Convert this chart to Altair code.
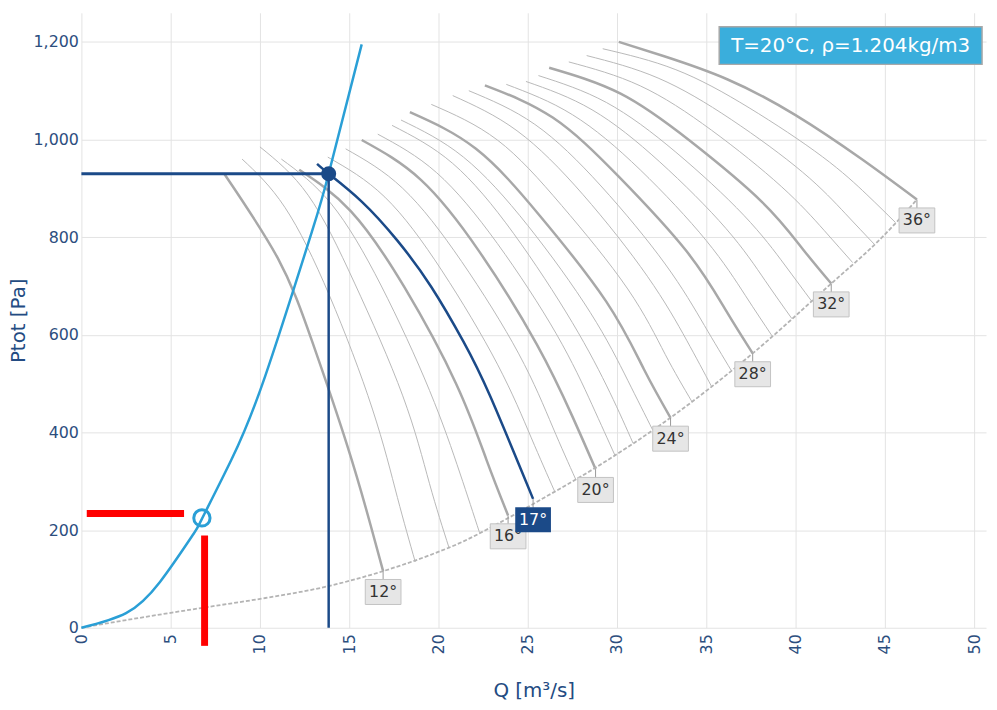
import altair as alt
import pandas as pd

# ---------------- data ----------------
ANGLES = list(range(12, 37))
THICK_ANGLES = [12, 16, 20, 24, 28, 32, 36]
SELECTED_ANGLE = 17
LABEL_ANGLES = [12, 16, 17, 20, 24, 28, 32, 36]

# fan curves (Q [m3/s], Ptot [Pa]) per blade angle
fan_12 = [(8.0, 930), (11.0, 757), (12.9, 589), (14.9, 372), (16.2, 210), (16.9, 116)]
fan_13 = [(9.0, 960), (11.4, 861), (13.9, 680), (16.3, 448), (17.7, 267), (18.7, 135)]
fan_14 = [(10.0, 985), (12.7, 886), (15.3, 706), (18.0, 475), (19.5, 295), (20.6, 163)]
fan_15 = [(11.2, 960), (14.0, 868), (16.8, 700), (19.5, 486), (21.2, 317), (22.3, 195)]
fan_16 = [(12.2, 938), (15.1, 853), (18.1, 697), (21.0, 499), (22.7, 343), (23.9, 230)]
fan_17 = [(13.2, 950), (13.85, 930), (15.7, 873), (17.7, 793), (19.6, 698), (21.4, 586),
          (22.9, 474), (25.3, 264)]
fan_18 = [(13.8, 964), (17.0, 882), (20.2, 731), (23.3, 540), (25.2, 389), (26.5, 280)]
fan_19 = [(14.8, 981), (18.0, 900), (21.3, 750), (24.5, 561), (26.4, 411), (27.7, 303)]
fan_20 = [(15.7, 999), (19.0, 918), (22.3, 770), (25.5, 581), (27.5, 433), (28.8, 325)]
fan_21 = [(16.6, 1011), (19.9, 932), (23.3, 787), (26.6, 602), (28.6, 457), (29.9, 352)]
fan_22 = [(17.4, 1029), (20.8, 951), (24.2, 808), (27.5, 625), (29.6, 482), (30.9, 378)]
fan_23 = [(17.9, 1040), (21.4, 964), (25.0, 824), (28.5, 646), (30.6, 507), (32.0, 405)]
fan_24 = [(18.4, 1056), (22.1, 981), (25.7, 843), (29.4, 668), (31.5, 530), (33.0, 430)]
fan_25 = [(19.6, 1072), (23.3, 999), (26.9, 865), (30.6, 694), (32.7, 560), (34.2, 463)]
fan_26 = [(20.8, 1090), (24.4, 1018), (28.1, 887), (31.7, 720), (33.9, 589), (35.3, 494)]
fan_27 = [(21.7, 1100), (25.4, 1031), (29.1, 905), (32.7, 745), (34.9, 619), (36.4, 527)]
fan_28 = [(22.6, 1111), (26.4, 1045), (30.1, 924), (33.9, 771), (36.1, 650), (37.6, 562)]
fan_29 = [(23.8, 1113), (27.5, 1051), (31.3, 938), (35.0, 793), (37.2, 680), (38.7, 597)]
fan_30 = [(24.9, 1119), (28.6, 1061), (32.4, 954), (36.1, 818), (38.3, 711), (39.8, 633)]
fan_31 = [(25.6, 1131), (29.4, 1076), (33.3, 974), (37.1, 845), (39.4, 743), (40.9, 669)]
fan_32 = [(26.2, 1147), (30.2, 1094), (34.1, 997), (38.1, 873), (40.4, 776), (42.0, 705)]
fan_33 = [(27.3, 1159), (31.3, 1110), (35.3, 1019), (39.2, 904), (41.6, 814), (43.2, 748)]
fan_34 = [(28.3, 1172), (32.3, 1126), (36.4, 1041), (40.4, 933), (42.8, 848), (44.4, 786)]
fan_35 = [(29.2, 1186), (33.3, 1143), (37.4, 1065), (41.5, 965), (44.0, 887), (45.6, 830)]
fan_36 = [(30.1, 1200), (32.6, 1171), (36.2, 1123), (40.0, 1050), (43.7, 960), (46.8, 877)]

FAN_CURVES = [fan_12, fan_13, fan_14, fan_15, fan_16, fan_17, fan_18, fan_19, fan_20,
              fan_21, fan_22, fan_23, fan_24, fan_25, fan_26, fan_27, fan_28, fan_29,
              fan_30, fan_31, fan_32, fan_33, fan_34, fan_35, fan_36]

# lower limit line of the fan field
limit_line = [(0, 0), (3.2, 20), (6.8, 41), (10.3, 61), (13.8, 85), (16.9, 116), (19.6, 150),
              (21.4, 177), (22.9, 205), (25.9, 266), (28.8, 328), (33.1, 433), (37.6, 562),
              (42.0, 705), (44.8, 798), (46.8, 877)]

# system curve
system_curve = [(0, 0), (2.5, 30), (4.4, 94), (6.2, 188), (6.75, 223), (8.4, 344),
                (10.3, 516), (12.9, 810), (13.85, 930), (15.7, 1195)]

operating_point = (13.85, 930)
second_point = (6.75, 225)
red_h = (0.3, 5.75, 234)      # Q from, Q to, P
red_v = (6.9, 189, -37)       # Q, P from, P to

INFO_TEXT = "T=20°C, ρ=1.204kg/m3"

# ---------------- tables ----------------
rows = []
for a, pts in zip(ANGLES, FAN_CURVES):
    for i, (q, p) in enumerate(pts):
        rows.append({"angle": a, "Q": q, "P": p, "i": i})
fan = pd.DataFrame(rows)
thin = fan[~fan.angle.isin(THICK_ANGLES + [SELECTED_ANGLE])]
thick = fan[fan.angle.isin(THICK_ANGLES)]
sel = fan[fan.angle == SELECTED_ANGLE]

limit_df = pd.DataFrame([{"Q": q, "P": p, "i": i} for i, (q, p) in enumerate(limit_line)])
sys_df = pd.DataFrame([{"Q": q, "P": p, "i": i} for i, (q, p) in enumerate(system_curve)])

ends = []
for a, pts in zip(ANGLES, FAN_CURVES):
    if a in LABEL_ANGLES:
        ends.append({"angle": a, "Q": pts[-1][0], "P": pts[-1][1], "label": f"{a}°"})
ends_df = pd.DataFrame(ends)
ends_grey = ends_df[ends_df.angle != SELECTED_ANGLE]
ends_sel = ends_df[ends_df.angle == SELECTED_ANGLE]

op_df = pd.DataFrame([{"Q": operating_point[0], "P": operating_point[1], "Q0": 0, "P0": 0}])
pt2_df = pd.DataFrame([{"Q": second_point[0], "P": second_point[1]}])
red_h_df = pd.DataFrame([{"Q": red_h[0], "Q2": red_h[1], "P": red_h[2]}])
red_v_df = pd.DataFrame([{"Q": red_v[0], "P": red_v[1], "P2": red_v[2]}])
info_df = pd.DataFrame([{"text": INFO_TEXT}])

# ---------------- styling ----------------
FONT = "DejaVu Sans"
DARK = "#1b4a88"
LIGHT = "#2a9fd6"
AX_COL = "#2c4e7e"
CURVE = "natural"

xs = alt.Scale(domain=[0, 50.67], nice=False, zero=False)
ys = alt.Scale(domain=[0, 1259.6], nice=False, zero=False)

x_axis = alt.Axis(values=list(range(0, 51, 5)), labelAngle=270, labelFlush=False,
                  labelOverlap=False, title="Q [m³/s]", labelPadding=6, titlePadding=27)
y_axis = alt.Axis(values=list(range(0, 1201, 200)), format=",d", labelFlush=False,
                  labelOverlap=False, title="Ptot [Pa]", labelPadding=3, titlePadding=5)

X = alt.X("Q:Q", scale=xs, axis=x_axis)
Y = alt.Y("P:Q", scale=ys, axis=y_axis)

thin_l = alt.Chart(thin).mark_line(color="#b8b8b8", strokeWidth=1, interpolate=CURVE).encode(
    x=X, y=Y, detail="angle:N", order="i:Q")
thick_l = alt.Chart(thick).mark_line(color="#a8a8a8", strokeWidth=2.5, interpolate=CURVE).encode(
    x=X, y=Y, detail="angle:N", order="i:Q")
limit_l = alt.Chart(limit_df).mark_line(color="#b4b4b4", strokeWidth=1.8, strokeDash=[4, 2],
                                        interpolate="monotone").encode(x=X, y=Y, order="i:Q")
sys_l = alt.Chart(sys_df).mark_line(color=LIGHT, strokeWidth=2.5, interpolate=CURVE).encode(
    x=X, y=Y, order="i:Q")
h_rule = alt.Chart(op_df).mark_rule(color=DARK, strokeWidth=3).encode(
    x=alt.X("Q0:Q", scale=xs), x2="Q:Q", y=alt.Y("P:Q", scale=ys))
v_rule = alt.Chart(op_df).mark_rule(color=DARK, strokeWidth=2.5).encode(
    x=alt.X("Q:Q", scale=xs), y=alt.Y("P0:Q", scale=ys), y2="P:Q")
sel_l = alt.Chart(sel).mark_line(color=DARK, strokeWidth=2.5, interpolate=CURVE).encode(
    x=X, y=Y, order="i:Q")
op_pt = alt.Chart(op_df).mark_point(filled=True, color=DARK, size=230, opacity=1).encode(x=X, y=Y)
pt2 = alt.Chart(pt2_df).mark_point(filled=False, color=LIGHT, size=270, strokeWidth=3,
                                   opacity=1).encode(x=X, y=Y)
red1 = alt.Chart(red_h_df).mark_rule(color="#ff0000", strokeWidth=7).encode(
    x=alt.X("Q:Q", scale=xs), x2="Q2:Q", y=alt.Y("P:Q", scale=ys))
red2 = alt.Chart(red_v_df).mark_rule(color="#ff0000", strokeWidth=7).encode(
    x=alt.X("Q:Q", scale=xs), y=alt.Y("P:Q", scale=ys), y2="P2:Q")

tick_m = alt.Chart(ends_df).mark_point(shape="M0,0L0,1", size=324, filled=False, color="#999999",
                                       strokeWidth=1, opacity=1).encode(x=X, y=Y)
BOX = "M-1,-0.7L1,-0.7L1,0.7L-1,0.7Z"
box_g = alt.Chart(ends_grey).mark_point(shape=BOX, size=1296, filled=True, color="#e6e6e6",
                                        stroke="#c2c2c2", strokeWidth=1, opacity=1,
                                        yOffset=21).encode(x=X, y=Y)
txt_g = alt.Chart(ends_grey).mark_text(font=FONT, fontSize=16, color="#333333", yOffset=21,
                                       baseline="middle").encode(x=X, y=Y, text="label:N")
box_s = alt.Chart(ends_sel).mark_point(shape=BOX, size=1296, filled=True, color=DARK,
                                       opacity=1, yOffset=21).encode(x=X, y=Y)
txt_s = alt.Chart(ends_sel).mark_text(font=FONT, fontSize=16, color="white", yOffset=21,
                                      baseline="middle").encode(x=X, y=Y, text="label:N")

info_box = alt.Chart(info_df).mark_rect(color="#3aaedc", stroke="#a8a8a8", strokeWidth=1.5).encode(
    x=alt.value(643), x2=alt.value(908), y=alt.value(14), y2=alt.value(52))
info_txt = alt.Chart(info_df).mark_text(font=FONT, fontSize=20, color="white", align="center",
                                        baseline="middle").encode(
    x=alt.value(775.5), y=alt.value(33.5), text="text:N")

chart = alt.layer(
    thin_l, thick_l, limit_l, sys_l, h_rule, v_rule, sel_l, op_pt, pt2,
    tick_m, box_g, txt_g, box_s, txt_s, red1, red2, info_box, info_txt
).properties(
    width=912, height=620,
    autosize=alt.AutoSizeParams(type="none"),
    padding={"left": 74, "top": 2, "right": 3, "bottom": 73},
    background="white",
).configure_axis(
    grid=True, gridColor="#e3e3e3", gridWidth=1, domain=False, ticks=False,
    labelFont=FONT, labelFontSize=16, labelColor=AX_COL,
    titleFont=FONT, titleFontSize=20, titleFontWeight="normal", titleColor="#234b82",
).configure_view(strokeWidth=0)

chart.save("out.html", embed_options={"renderer": "svg", "actions": False})
